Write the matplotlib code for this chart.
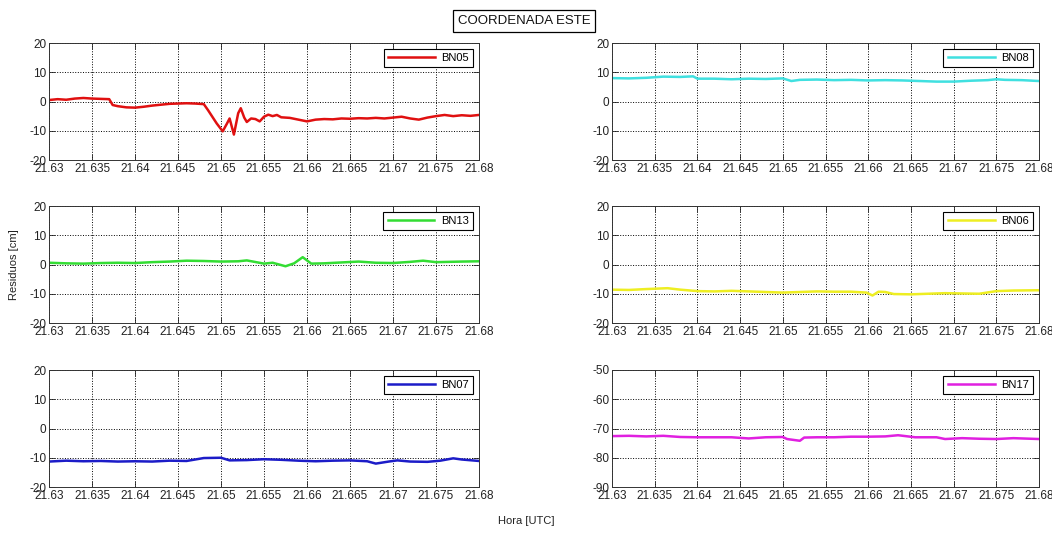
"""Residuos da coordenada Este por estacao (BN05..BN17)."""

import matplotlib

matplotlib.use("Agg")
import matplotlib.pyplot as plt
from matplotlib.ticker import FixedLocator, FuncFormatter

plt.rcParams["font.family"] = ["Liberation Sans", "DejaVu Sans"]
plt.rcParams["axes.unicode_minus"] = False

# --- data (hour UTC, residual cm) ---
bn05_t = [21.6300, 21.6310, 21.6320, 21.6330, 21.6340, 21.6350, 21.6360, 21.6370,
          21.6374, 21.6380, 21.6390, 21.6400, 21.6410, 21.6420, 21.6430, 21.6440,
          21.6450, 21.6460, 21.6470, 21.6480, 21.6485, 21.6495, 21.6502, 21.6507,
          21.6510, 21.6515, 21.6520, 21.6523, 21.6527, 21.6530, 21.6535, 21.6540,
          21.6545, 21.6550, 21.6555, 21.6560, 21.6565, 21.6570, 21.6580, 21.6590,
          21.6600, 21.6610, 21.6620, 21.6630, 21.6640, 21.6650, 21.6660, 21.6670,
          21.6680, 21.6690, 21.6700, 21.6710, 21.6720, 21.6730, 21.6740, 21.6750,
          21.6760, 21.6770, 21.6780, 21.6790, 21.6800]
bn05_v = [0.5, 0.8, 0.6, 1.0, 1.2, 1.0, 0.9, 0.8,
          -1.2, -1.6, -2.0, -2.1, -1.8, -1.4, -1.1, -0.8,
          -0.7, -0.6, -0.7, -0.9, -3.0, -7.5, -10.2, -7.5,
          -5.8, -11.3, -4.0, -2.3, -5.5, -7.0, -5.8, -6.0,
          -6.8, -5.2, -4.5, -5.0, -4.6, -5.4, -5.6, -6.2,
          -6.8, -6.2, -6.0, -6.1, -5.8, -5.9, -5.7, -5.8,
          -5.6, -5.8, -5.5, -5.2, -5.8, -6.2, -5.5, -5.0,
          -4.6, -5.0, -4.7, -4.9, -4.6]

bn08_t = [21.630, 21.632, 21.634, 21.636, 21.638, 21.6395, 21.640, 21.642, 21.644,
          21.646, 21.648, 21.650, 21.651, 21.652, 21.654, 21.656, 21.658, 21.660,
          21.662, 21.664, 21.666, 21.668, 21.670, 21.672, 21.674, 21.675, 21.676,
          21.678, 21.680]
bn08_v = [8.0, 7.9, 8.1, 8.5, 8.4, 8.6, 7.8, 7.8, 7.6,
          7.8, 7.7, 7.9, 7.0, 7.4, 7.5, 7.3, 7.4, 7.2,
          7.3, 7.2, 7.0, 6.8, 6.8, 7.1, 7.3, 7.6, 7.4,
          7.3, 7.0]

bn13_t = [21.630, 21.632, 21.634, 21.636, 21.638, 21.640, 21.642, 21.644, 21.646,
          21.648, 21.650, 21.652, 21.653, 21.655, 21.656, 21.6575, 21.6585, 21.6595,
          21.6605, 21.662, 21.664, 21.666, 21.668, 21.670, 21.672, 21.6735, 21.675,
          21.678, 21.680]
bn13_v = [0.6, 0.4, 0.3, 0.5, 0.6, 0.5, 0.8, 1.0, 1.3,
          1.2, 1.0, 1.1, 1.4, 0.3, 0.6, -0.6, 0.4, 2.5,
          0.3, 0.4, 0.7, 1.0, 0.6, 0.5, 0.9, 1.3, 0.8,
          1.0, 1.1]

bn06_t = [21.630, 21.632, 21.634, 21.6365, 21.638, 21.640, 21.642, 21.644, 21.646,
          21.648, 21.650, 21.652, 21.654, 21.656, 21.658, 21.6598, 21.6605, 21.6612,
          21.662, 21.663, 21.665, 21.667, 21.669, 21.671, 21.673, 21.675, 21.677,
          21.680]
bn06_v = [-8.6, -8.7, -8.4, -8.1, -8.6, -9.1, -9.2, -9.0, -9.2,
          -9.4, -9.6, -9.4, -9.2, -9.3, -9.3, -9.6, -10.6, -9.3,
          -9.4, -10.1, -10.2, -10.0, -9.8, -9.9, -10.0, -9.1, -8.9,
          -8.8]

bn07_t = [21.630, 21.632, 21.634, 21.636, 21.638, 21.640, 21.642, 21.644, 21.646,
          21.647, 21.648, 21.650, 21.651, 21.653, 21.655, 21.657, 21.659, 21.661,
          21.663, 21.665, 21.667, 21.668, 21.6695, 21.6705, 21.672, 21.674, 21.6755,
          21.677, 21.678, 21.680]
bn07_v = [-11.3, -11.0, -11.2, -11.1, -11.3, -11.2, -11.3, -11.0, -11.1,
          -10.6, -10.1, -10.0, -10.9, -10.8, -10.5, -10.7, -11.0, -11.2,
          -11.0, -10.9, -11.2, -12.0, -11.3, -10.9, -11.3, -11.4, -11.0,
          -10.2, -10.6, -11.1]

bn17_t = [21.630, 21.632, 21.634, 21.636, 21.638, 21.640, 21.642, 21.644, 21.646,
          21.648, 21.650, 21.6505, 21.652, 21.6525, 21.654, 21.656, 21.658, 21.660,
          21.662, 21.6635, 21.6655, 21.668, 21.669, 21.671, 21.673, 21.675, 21.677,
          21.680]
bn17_v = [-72.6, -72.5, -72.7, -72.5, -72.9, -73.0, -73.0, -73.0, -73.4,
          -73.0, -72.9, -73.6, -74.2, -73.1, -73.0, -73.0, -72.8, -72.8,
          -72.7, -72.3, -73.0, -73.0, -73.6, -73.3, -73.5, -73.6, -73.3,
          -73.6]

series = [
    ("BN05", bn05_t, bn05_v, "#e01010", (-20, 20)),
    ("BN08", bn08_t, bn08_v, "#40e0e0", (-20, 20)),
    ("BN13", bn13_t, bn13_v, "#33dd33", (-20, 20)),
    ("BN06", bn06_t, bn06_v, "#eeee22", (-20, 20)),
    ("BN07", bn07_t, bn07_v, "#1c1cc8", (-20, 20)),
    ("BN17", bn17_t, bn17_v, "#e020e0", (-90, -50)),
]

x_ticks = [21.63, 21.635, 21.64, 21.645, 21.65, 21.655, 21.66, 21.665, 21.67, 21.675, 21.68]

W, H = 1052, 534
# axes boxes in pixels: (left, right) and (top, bottom)
col_px = [(49, 479), (612, 1039)]
row_px = [(43, 160), (206, 323), (370, 487)]

fig = plt.figure(figsize=(W / 100, H / 100), dpi=100)
fig.patch.set_facecolor("white")

for i, (name, t, v, color, ylim) in enumerate(series):
    r, c = divmod(i, 2)
    x0, x1 = col_px[c]
    y0, y1 = row_px[r]
    ax = fig.add_axes([x0 / W, 1 - y1 / H, (x1 - x0) / W, (y1 - y0) / H])
    ax.plot(t, v, color=color, linewidth=1.8, label=name)
    ax.set_xlim(21.63, 21.68)
    ax.set_ylim(*ylim)
    ax.xaxis.set_major_locator(FixedLocator(x_ticks))
    ax.xaxis.set_major_formatter(FuncFormatter(lambda val, pos: f"{val:g}"))
    ax.set_yticks(list(range(ylim[0], ylim[1] + 1, 10)))
    ax.grid(True, linestyle=":", color="black", linewidth=0.7)
    ax.tick_params(direction="in", top=True, right=True, labelsize=8.5,
                   length=4, width=0.6, pad=2, colors="#222222")
    for sp in ax.spines.values():
        sp.set_linewidth(0.7)
        sp.set_color("#333333")
    leg = ax.legend(loc="upper right", fontsize=8, handlelength=4.2,
                    fancybox=False, framealpha=1, borderpad=0.4,
                    borderaxespad=0.5, handletextpad=0.6)
    leg.get_frame().set_edgecolor("black")
    leg.get_frame().set_linewidth(0.8)

fig.text(524 / W, 1 - 21 / H, "COORDENADA ESTE", ha="center", va="center",
         fontsize=9.5, color="#111111",
         bbox=dict(boxstyle="square,pad=0.35", facecolor="white",
                   edgecolor="black", linewidth=0.9))
fig.text(14 / W, 1 - 265 / H, "Residuos [cm]", ha="center", va="center",
         rotation=90, fontsize=8, color="#222222")
fig.text(526 / W, 1 - 521 / H, "Hora [UTC]", ha="center", va="center",
         fontsize=8, color="#222222")

fig.savefig("out.png", dpi=100)
